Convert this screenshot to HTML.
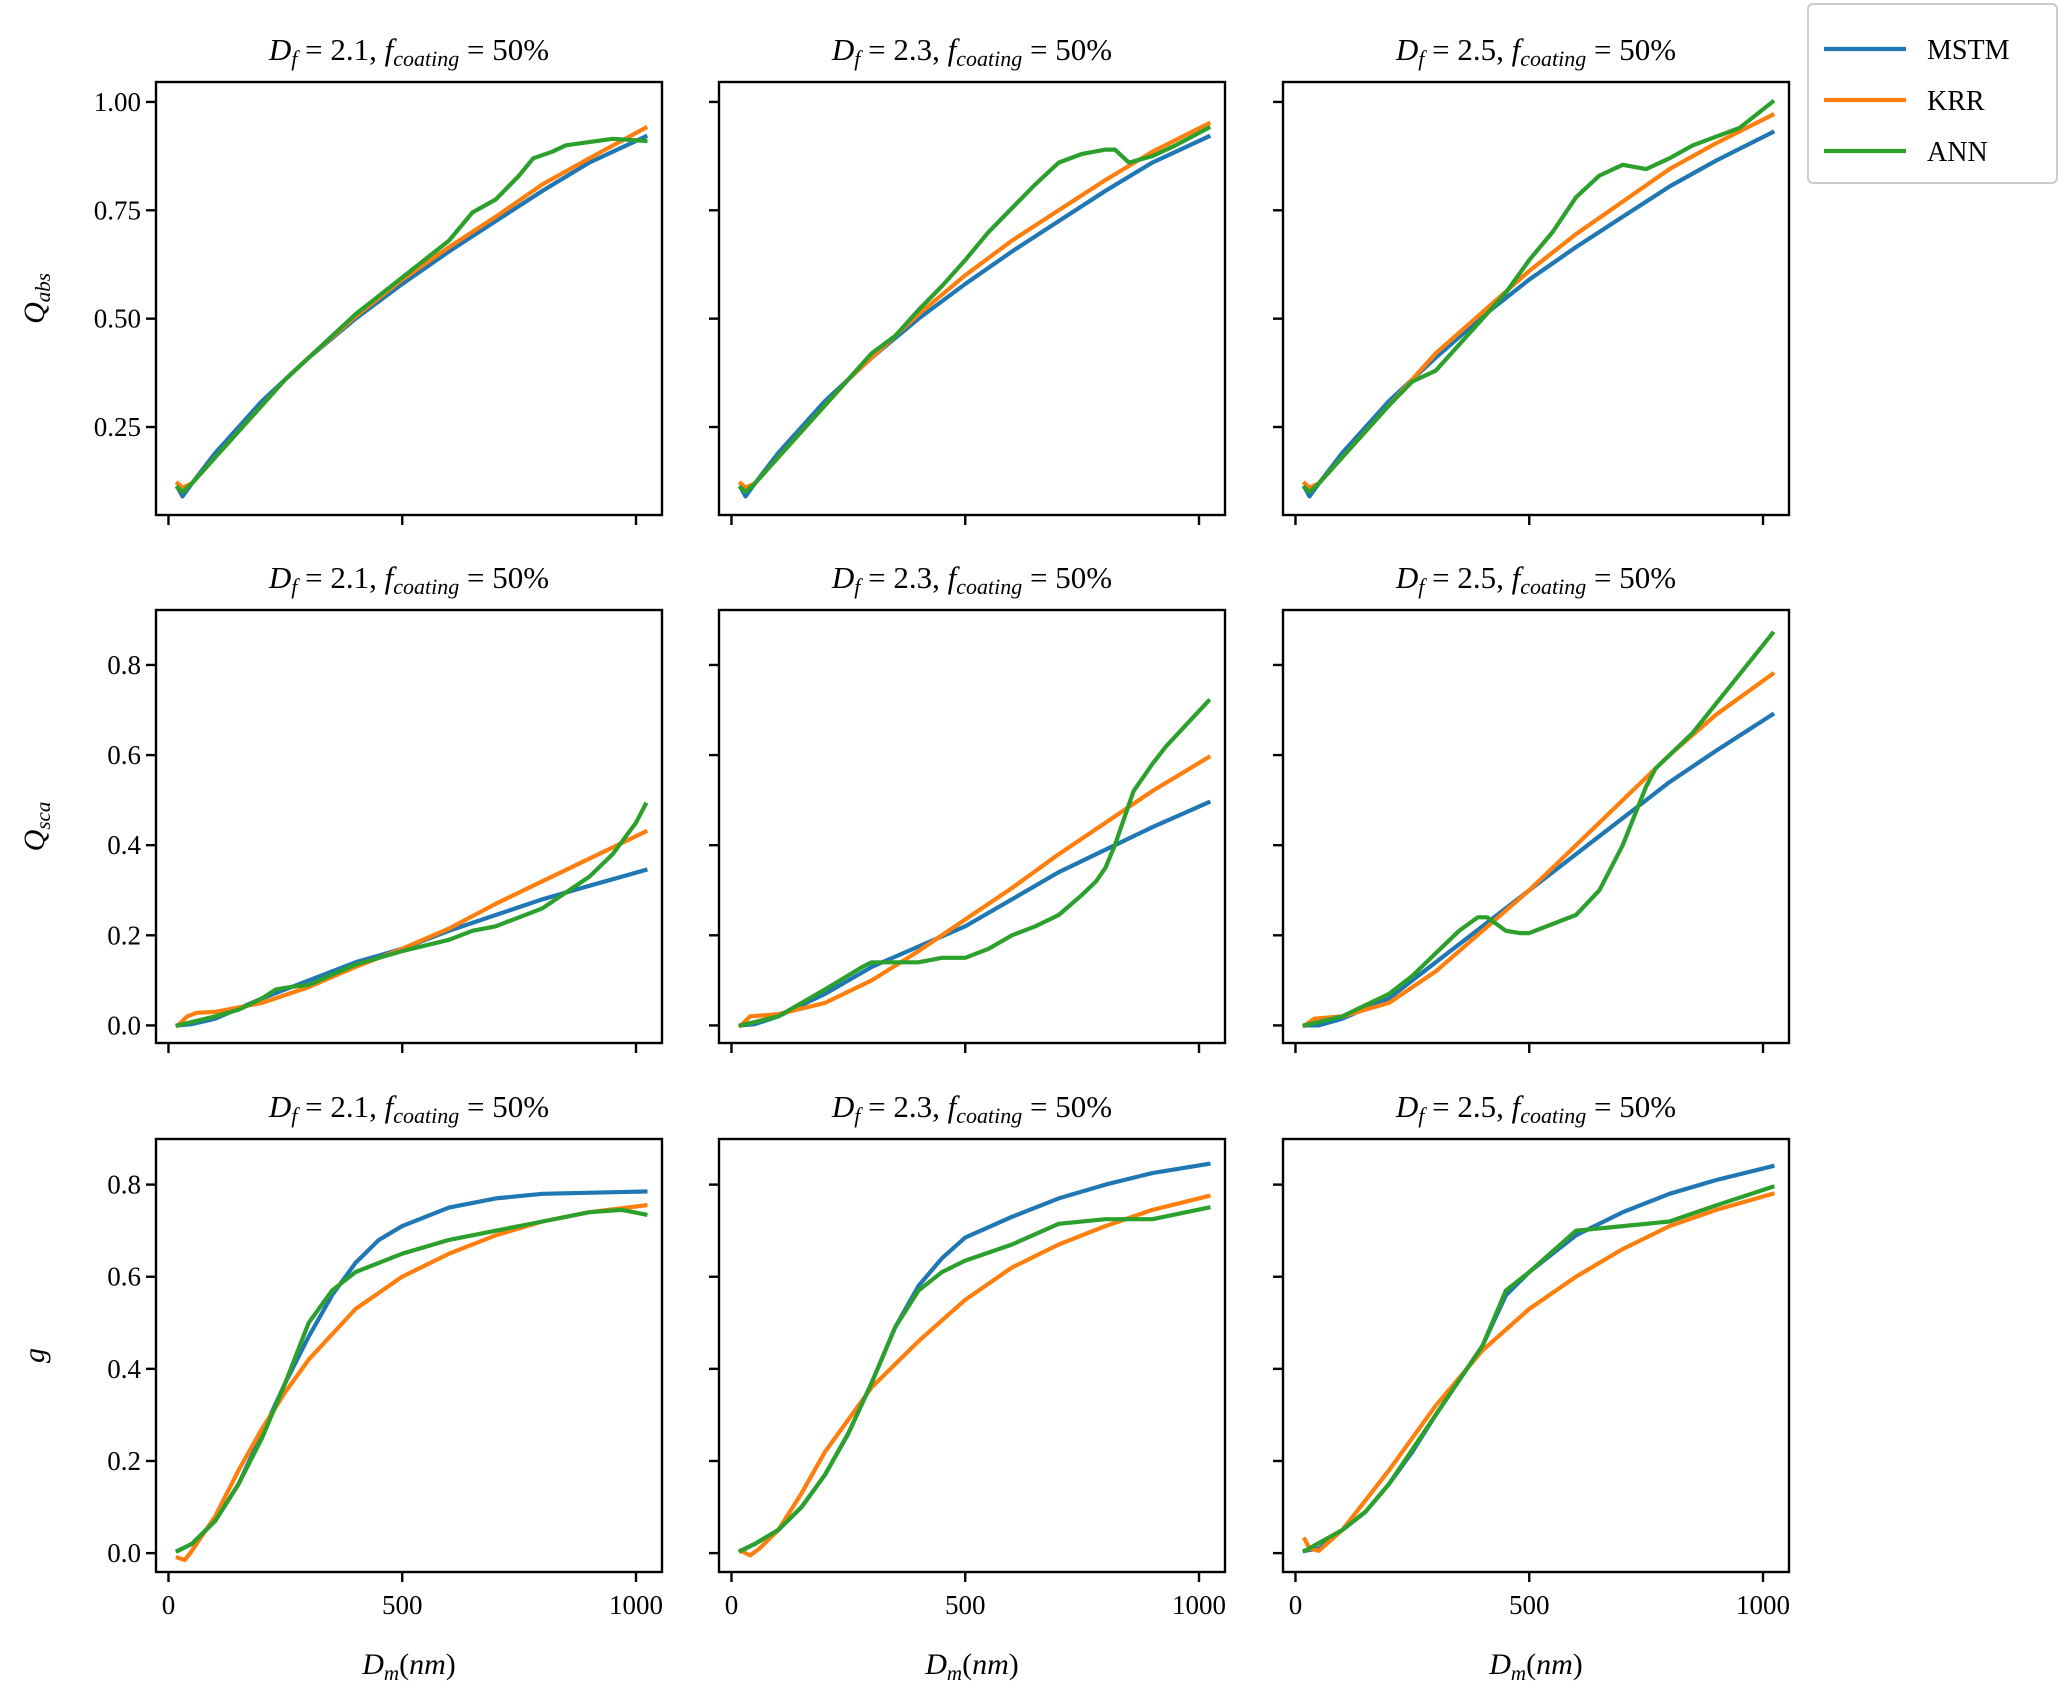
<!DOCTYPE html>
<html><head><meta charset="utf-8">
<style>
html,body{margin:0;padding:0;background:#fff;}
svg{display:block;font-family:"Liberation Serif",serif;}
</style></head>
<body>
<svg id="chart" width="2067" height="1699" viewBox="0 0 2067 1699" xmlns="http://www.w3.org/2000/svg"></svg>
<script>
// ---- data ----
const dfLabels = ["2.1","2.3","2.5"];
const xTicks = [0,500,1000];
const absTicks = [0.25,0.50,0.75,1.00];
const absTickLabels = ["0.25","0.50","0.75","1.00"];
const scaTicks = [0,0.2,0.4,0.6,0.8];
const scaTickLabels = ["0.0","0.2","0.4","0.6","0.8"];

const abs21Mstm = [[20,0.11],[30,0.09],[50,0.12],[100,0.19],[150,0.25],[200,0.31],[250,0.36],[300,0.41],[400,0.50],[500,0.58],[600,0.655],[700,0.725],[800,0.795],[900,0.86],[1020,0.92]];
const abs21Krr = [[20,0.12],[30,0.11],[50,0.12],[100,0.18],[150,0.24],[200,0.30],[250,0.36],[300,0.41],[400,0.505],[500,0.59],[600,0.665],[700,0.735],[800,0.81],[900,0.87],[1020,0.94]];
const abs21Ann = [[20,0.11],[30,0.10],[50,0.12],[100,0.18],[150,0.24],[200,0.30],[250,0.36],[300,0.41],[400,0.51],[500,0.595],[600,0.68],[650,0.745],[700,0.775],[750,0.83],[780,0.87],[820,0.885],[850,0.90],[950,0.915],[1020,0.91]];
const abs23Mstm = abs21Mstm;
const abs23Krr = [[20,0.12],[30,0.11],[50,0.12],[100,0.18],[150,0.24],[200,0.30],[250,0.36],[300,0.41],[400,0.51],[500,0.60],[600,0.68],[700,0.75],[800,0.82],[900,0.885],[1020,0.95]];
const abs23Ann = [[20,0.11],[30,0.10],[50,0.12],[100,0.18],[150,0.24],[200,0.30],[250,0.36],[300,0.42],[350,0.46],[400,0.52],[450,0.575],[500,0.635],[550,0.70],[600,0.755],[650,0.81],[700,0.86],[750,0.88],[800,0.89],[820,0.89],[850,0.86],[900,0.875],[950,0.90],[1020,0.94]];
const abs25Mstm = [[20,0.11],[30,0.09],[50,0.12],[100,0.19],[150,0.25],[200,0.31],[250,0.36],[300,0.41],[400,0.505],[500,0.59],[600,0.665],[700,0.735],[800,0.805],[900,0.865],[1020,0.93]];
const abs25Krr = [[20,0.12],[30,0.11],[50,0.12],[100,0.18],[150,0.24],[200,0.30],[250,0.36],[300,0.42],[400,0.515],[500,0.61],[600,0.695],[700,0.77],[800,0.845],[900,0.905],[1020,0.97]];
const abs25Ann = [[20,0.11],[30,0.10],[50,0.12],[100,0.18],[150,0.24],[200,0.30],[250,0.355],[300,0.38],[350,0.44],[400,0.50],[450,0.56],[500,0.635],[550,0.70],[600,0.78],[650,0.83],[700,0.855],[750,0.845],[800,0.87],[850,0.90],[950,0.94],[1020,1.00]];

const sca21Mstm = [[20,0],[50,0.003],[100,0.015],[200,0.06],[300,0.10],[400,0.14],[500,0.17],[600,0.21],[700,0.245],[800,0.28],[900,0.31],[1020,0.345]];
const sca21Krr = [[20,0],[40,0.02],[60,0.028],[100,0.03],[200,0.05],[300,0.085],[400,0.13],[500,0.17],[600,0.215],[700,0.27],[800,0.32],[900,0.37],[1020,0.43]];
const sca21Ann = [[20,0],[100,0.02],[150,0.035],[200,0.06],[230,0.08],[260,0.085],[300,0.09],[400,0.135],[500,0.165],[600,0.19],[650,0.21],[700,0.22],[800,0.26],[900,0.33],[950,0.38],[1000,0.45],[1020,0.49]];
const sca23Mstm = [[20,0],[50,0.003],[100,0.02],[200,0.07],[300,0.13],[400,0.175],[500,0.22],[600,0.28],[700,0.34],[800,0.39],[900,0.44],[1020,0.495]];
const sca23Krr = [[20,0],[40,0.02],[100,0.025],[200,0.05],[300,0.10],[400,0.165],[500,0.235],[600,0.305],[700,0.38],[800,0.45],[900,0.52],[1020,0.595]];
const sca23Ann = [[20,0],[100,0.02],[200,0.08],[280,0.13],[300,0.14],[350,0.14],[400,0.14],[450,0.15],[500,0.15],[550,0.17],[600,0.20],[650,0.22],[700,0.245],[750,0.29],[780,0.32],[800,0.35],[820,0.40],[840,0.46],[860,0.52],[900,0.58],[930,0.62],[1020,0.72]];
const sca25Mstm = [[20,0],[50,0],[100,0.015],[200,0.06],[300,0.14],[400,0.22],[500,0.30],[600,0.38],[700,0.46],[800,0.54],[900,0.61],[1020,0.69]];
const sca25Krr = [[20,0],[40,0.015],[100,0.02],[200,0.05],[300,0.12],[400,0.21],[500,0.30],[600,0.40],[700,0.50],[800,0.60],[900,0.69],[1020,0.78]];
const sca25Ann = [[20,0],[100,0.02],[200,0.07],[250,0.11],[300,0.16],[350,0.21],[390,0.24],[410,0.24],[450,0.21],[480,0.205],[500,0.205],[550,0.225],[600,0.245],[650,0.30],[700,0.40],[750,0.53],[770,0.57],[850,0.65],[1020,0.87]];

const g21Mstm = [[20,0.005],[50,0.02],[100,0.07],[150,0.15],[200,0.26],[250,0.37],[300,0.47],[350,0.56],[400,0.63],[450,0.68],[500,0.71],[600,0.75],[700,0.77],[800,0.78],[1020,0.785]];
const g21Krr = [[20,-0.01],[35,-0.015],[50,0.005],[100,0.08],[150,0.18],[200,0.27],[250,0.35],[300,0.42],[400,0.53],[500,0.60],[600,0.65],[700,0.69],[800,0.72],[900,0.74],[1020,0.755]];
const g21Ann = [[20,0.005],[50,0.02],[100,0.07],[150,0.15],[200,0.25],[250,0.37],[300,0.50],[350,0.57],[400,0.61],[500,0.65],[600,0.68],[700,0.70],[800,0.72],[900,0.74],[970,0.745],[1020,0.735]];
const g23Mstm = [[20,0.005],[50,0.02],[100,0.05],[150,0.10],[200,0.17],[250,0.26],[300,0.37],[350,0.49],[400,0.58],[450,0.64],[500,0.685],[600,0.73],[700,0.77],[800,0.80],[900,0.825],[1020,0.845]];
const g23Krr = [[20,0.005],[40,-0.005],[60,0.01],[100,0.05],[150,0.13],[200,0.22],[250,0.29],[300,0.36],[400,0.46],[500,0.55],[600,0.62],[700,0.67],[800,0.71],[900,0.745],[1020,0.775]];
const g23Ann = [[20,0.005],[50,0.02],[100,0.05],[150,0.10],[200,0.17],[250,0.26],[300,0.37],[350,0.49],[400,0.57],[450,0.61],[500,0.635],[600,0.67],[700,0.715],[800,0.725],[900,0.725],[1020,0.75]];
const g25Mstm = [[20,0.005],[50,0.01],[100,0.05],[150,0.09],[200,0.15],[250,0.22],[300,0.30],[400,0.45],[450,0.56],[500,0.61],[550,0.65],[600,0.69],[700,0.74],[800,0.78],[900,0.81],[1020,0.84]];
const g25Krr = [[20,0.03],[30,0.01],[50,0.005],[100,0.05],[200,0.18],[300,0.32],[400,0.44],[500,0.53],[600,0.60],[700,0.66],[800,0.71],[900,0.745],[1020,0.78]];
const g25Ann = [[20,0.005],[100,0.05],[150,0.09],[200,0.15],[300,0.30],[400,0.45],[450,0.57],[500,0.61],[600,0.70],[700,0.71],[800,0.72],[900,0.755],[1020,0.795]];

const seriesNames = ["MSTM","KRR","ANN"];
const seriesColors = ["#1f77b4","#ff7f0e","#2ca02c"];

// ---- layout ----
const svg = document.getElementById('chart');
const NS = "http://www.w3.org/2000/svg";
const colLeft = [156, 719, 1283];
const rowTop = [82, 610, 1139];
const PW = 506, PH = 433;
const xDom = [-26.7, 1055.6];
const yDoms = [[0.047,1.046],[-0.039,0.922],[-0.041,0.899]];
const rowData = [
  [[abs21Mstm,abs21Krr,abs21Ann],[abs23Mstm,abs23Krr,abs23Ann],[abs25Mstm,abs25Krr,abs25Ann]],
  [[sca21Mstm,sca21Krr,sca21Ann],[sca23Mstm,sca23Krr,sca23Ann],[sca25Mstm,sca25Krr,sca25Ann]],
  [[g21Mstm,g21Krr,g21Ann],[g23Mstm,g23Krr,g23Ann],[g25Mstm,g25Krr,g25Ann]]
];
const rowTicks = [absTicks, scaTicks, scaTicks];
const rowTickLabels = [absTickLabels, scaTickLabels, scaTickLabels];
const rowKeys = ["qabs","qsca","g"];

function mk(tag, attrs, parent){
  const e = document.createElementNS(NS, tag);
  for (const k in attrs) e.setAttribute(k, attrs[k]);
  (parent||svg).appendChild(e);
  return e;
}
function ts(parent, text, opts){
  const t = document.createElementNS(NS,'tspan');
  if (opts) for (const k in opts) t.setAttribute(k, opts[k]);
  t.textContent = text;
  parent.appendChild(t);
  return t;
}

for (let r=0;r<3;r++){
  for (let c=0;c<3;c++){
    const L = colLeft[c], T = rowTop[r];
    const yd = yDoms[r];
    const sx = v => L + (v - xDom[0])/(xDom[1]-xDom[0])*PW;
    const sy = v => T + PH - (v - yd[0])/(yd[1]-yd[0])*PH;
    const g = mk('g',{});
    
    

    const title = mk('text',{x:L+PW/2, y:T-22, 'text-anchor':'middle', 'font-size':'31'}, g);
    
    
    ts(title,'D',{'font-style':'italic'});
    ts(title,'f',{'font-style':'italic','font-size':'22',dy:'6'});
    ts(title,' = '+dfLabels[c]+', ',{dy:'-6'});
    ts(title,'f',{'font-style':'italic'});
    ts(title,'coating',{'font-style':'italic','font-size':'22',dy:'6'});
    ts(title,' = 50%',{dy:'-6'});

    const clip = 'clip'+r+c;
    const cp = mk('clipPath',{id:clip}, g);
    mk('rect',{x:L,y:T,width:PW,height:PH}, cp);
    const sg = mk('g',{'clip-path':'url(#'+clip+')'}, g);
    rowData[r][c].forEach((pts,i)=>{
      const d = pts.map((p,j)=>(j?'L':'M')+sx(p[0]).toFixed(1)+','+sy(p[1]).toFixed(1)).join(' ');
      const path = mk('path',{d:d, fill:'none', stroke:seriesColors[i], 'stroke-width':'4.2', 'stroke-linejoin':'round','stroke-linecap':'square'}, sg);
      
      
    });

    const fr = mk('rect',{x:L,y:T,width:PW,height:PH,fill:'none',stroke:'#000','stroke-width':'2.4'}, g);
    
    

    xTicks.forEach(v=>{
      const X = sx(v);
      const tk = mk('line',{x1:X,x2:X,y1:T+PH,y2:T+PH+10,stroke:'#000','stroke-width':'2.4'}, g);
      
      
      if (r===2){
        const tl = mk('text',{x:X,y:T+PH+42,'text-anchor':'middle','font-size':'27'}, g);
        
        
        tl.textContent = String(v);
      }
    });
    rowTicks[r].forEach((v,i)=>{
      const Y = sy(v);
      const tk = mk('line',{x1:L-10,x2:L,y1:Y,y2:Y,stroke:'#000','stroke-width':'2.4'}, g);
      
      
      if (c===0){
        const tl = mk('text',{x:L-15,y:Y+9,'text-anchor':'end','font-size':'27'}, g);
        
        
        tl.textContent = rowTickLabels[r][i];
      }
    });

    if (r===2){
      const xl = mk('text',{x:L+PW/2,y:1674,'text-anchor':'middle','font-size':'30'}, g);
      
      
      ts(xl,'D',{'font-style':'italic'});
      ts(xl,'m',{'font-style':'italic','font-size':'21',dy:'6'});
      ts(xl,'(',{dy:'-6'});
      ts(xl,'nm',{'font-style':'italic'});
      ts(xl,')');
    }
    if (c===0){
      const cy = T+PH/2;
      const yl = mk('text',{x:0,y:0,'text-anchor':'middle','font-size':'30',transform:'translate(44,'+cy+') rotate(-90)'}, g);
      
      
      if (r===0){ ts(yl,'Q',{'font-style':'italic'}); ts(yl,'abs',{'font-style':'italic','font-size':'21',dy:'6'}); }
      else if (r===1){ ts(yl,'Q',{'font-style':'italic'}); ts(yl,'sca',{'font-style':'italic','font-size':'21',dy:'6'}); }
      else { ts(yl,'g',{'font-style':'italic'}); }
    }
  }
}

const lg = mk('g',{});


mk('rect',{x:1808,y:4,width:249,height:179,rx:5,fill:'#fff',stroke:'#ccc','stroke-width':'2'}, lg);
seriesNames.forEach((n,i)=>{
  const Y = 49 + i*51;
  const e = mk('g',{}, lg);
  
  
  mk('line',{x1:1824,x2:1906,y1:Y,y2:Y,stroke:seriesColors[i],'stroke-width':'4.2'}, e);
  const t = mk('text',{x:1927,y:Y+10,'font-size':'28'}, e);
  t.textContent = n;
});
</script>
</body></html>
